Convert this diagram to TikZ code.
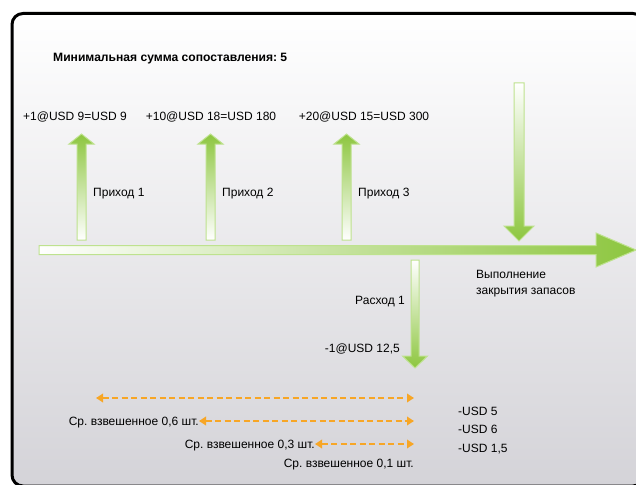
\documentclass[tikz,border=0pt]{standalone}
\usepackage{fontspec}
\setmainfont{Liberation Sans}
\usetikzlibrary{arrows.meta}
\frenchspacing

\definecolor{arrgreen}{RGB}{141,198,63}
\definecolor{arrline}{RGB}{190,226,142}
\definecolor{dashorange}{RGB}{247,166,38}
\definecolor{bggray}{RGB}{212,211,216}

\tikzset{
  lbl/.style={font=\fontsize{12}{14}\selectfont, inner sep=0pt, anchor=base west},
  headline/.style={lbl, font=\fontsize{12.1}{14}\selectfont\bfseries},
  upbar/.style={top color=arrgreen, bottom color=white, draw=arrline, line width=1pt},
  downbar/.style={top color=white, bottom color=arrgreen, draw=arrline, line width=1pt},
  timebar/.style={left color=white, right color=arrgreen, draw=arrline, line width=1pt},
  wavg/.style={draw=dashorange, line width=2.4pt, dash pattern=on 6pt off 3.5pt,
    {Triangle[length=7pt,width=8.5pt]}-{Triangle[length=7pt,width=8.5pt]}}
}

\begin{document}
\begin{tikzpicture}[x=1pt,y=-1pt]
\useasboundingbox (0,0) rectangle (636,484);
\clip (0,0) rectangle (636,484);

%frame
\shade[top color=white, middle color=white, bottom color=bggray, rounded corners=11pt] (12,13.5) rectangle (644,486);
\draw[line width=3pt, rounded corners=11pt] (12,13.5) rectangle (644,486);

\node[headline] (minsum) at (53,62) {Минимальная сумма сопоставления: 5};

%time axis
\shadedraw[timebar] (39,245.5) -- (596,245.5) -- (596,233) -- (636,250) -- (596,267) -- (596,254.5) -- (39,254.5) -- cycle;

%receipts
\foreach \x/\n in {81.5/1,210.5/2,346.5/3} {
  \shadedraw[upbar] (\x-4.5,240) -- (\x-4.5,144) -- (\x-12.5,144) -- (\x,134) -- (\x+12.5,144) -- (\x+4.5,144) -- (\x+4.5,240) -- cycle;
  \node[lbl] (in\n) at (\x+11.5,196) {Приход \n};
}
\node[lbl, anchor=base] (p1) at (75,120) {+1@USD 9=USD 9};
\node[lbl, anchor=base] (p2) at (211,120) {+10@USD 18=USD 180};
\node[lbl, anchor=base] (p3) at (364,120) {+20@USD 15=USD 300};

%inventory close
\shadedraw[downbar] (514,83) -- (524,83) -- (524,226) -- (534,226) -- (519,241) -- (504,226) -- (514,226) -- cycle;
\node[lbl] (close1) at (476,278) {Выполнение};
\node[lbl] (close2) at (476,294) {закрытия запасов};

%issue
\shadedraw[downbar] (411,260) -- (419,260) -- (419,356) -- (427.5,356) -- (415,368) -- (402.5,356) -- (411,356) -- cycle;
\node[lbl, anchor=base east] (out1) at (405,304) {Расход 1};
\node[lbl, anchor=base east] (outp) at (400,352) {-1@USD 12,5};

%weighted average
\coordinate (a1) at (96,398);
\coordinate (b1) at (414,398);
\node[lbl, anchor=base east] (w6) at (199,425) {Ср. взвешенное 0,6 шт.};
\coordinate (b2) at (414,421);
\node[lbl, anchor=base east] (w3) at (315,448) {Ср. взвешенное 0,3 шт.};
\coordinate (b3) at (414,444);
\node[lbl, anchor=base east] (w1) at (414,467) {Ср. взвешенное 0,1 шт.};

\draw[wavg] (a1) -- (b1);
\draw[wavg] (w6.east |- b2) -- (b2);
\draw[wavg] (w3.east |- b3) -- (b3);

\node[lbl] (c5) at (458,415) {-USD 5};
\node[lbl] (c6) at (458,433) {-USD 6};
\node[lbl] (c15) at (458,452) {-USD 1,5};
\end{tikzpicture}
\end{document}
